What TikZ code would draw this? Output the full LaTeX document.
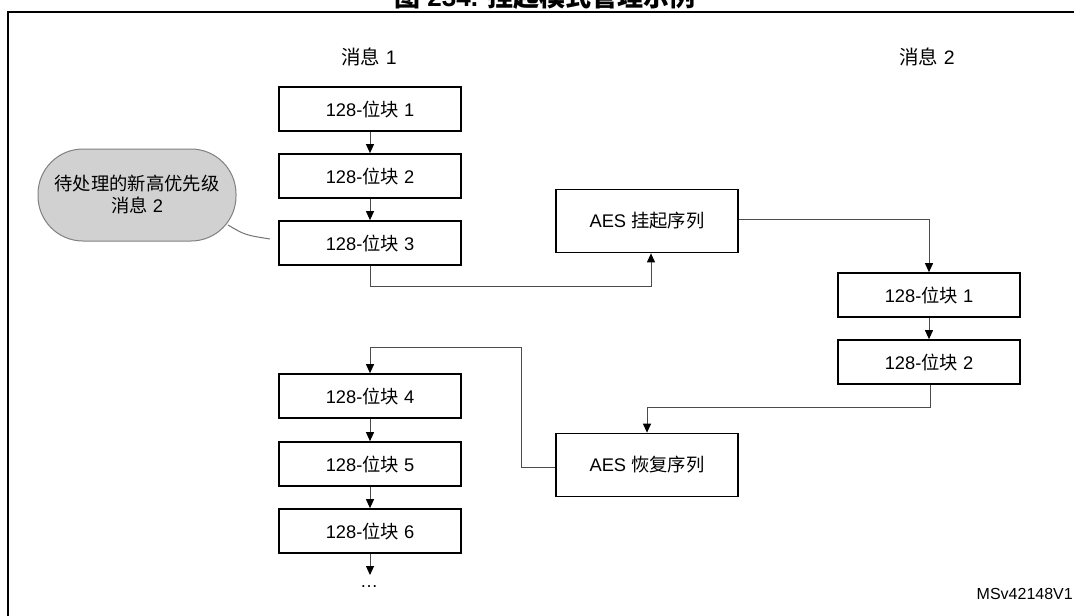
\documentclass[tikz,border=0pt]{standalone}
\usepackage{fontspec}
\setmainfont{Liberation Sans}
\newfontfamily\cjk{Noto Sans CJK SC}
\newcommand\zh[1]{{\cjk #1}}
\usetikzlibrary{arrows.meta}
\tikzset{
  blk/.style={draw, line width=1.7pt, minimum width=182pt, minimum height=44pt, inner sep=0pt, font=\fontsize{18.3}{21}\selectfont},
  aesbox/.style={blk, minimum height=63pt},
  conn/.style={draw=black!70, line width=1pt, -{Triangle[width=8pt,length=9pt,color=black]}},
  lbl/.style={font=\fontsize{19.5}{22}\selectfont},
}
\begin{document}
\begin{tikzpicture}[x=1pt,y=-1pt]
\useasboundingbox (0,0) rectangle (1074,616);
% frame and title
\draw[line width=2pt] (1080,12) -- (8,12) -- (8,620);
\node[anchor=base, font=\bfseries\fontsize{26}{30}\selectfont, inner sep=0pt] (title) at (545,6.5) {\zh{图} 234. \zh{挂起模式管理示例}};
% labels
\node[lbl] (m1) at (369,57) {\zh{消息} 1};
\node[lbl] (m2) at (927,57) {\zh{消息} 2};
% left column
\node[blk] (L1) at (370,109) {128-\zh{位块} 1};
\node[blk] (L2) at (370,176) {128-\zh{位块} 2};
\node[blk] (L3) at (370,243) {128-\zh{位块} 3};
\node[blk] (L4) at (370,396) {128-\zh{位块} 4};
\node[blk] (L5) at (370,464) {128-\zh{位块} 5};
\node[blk] (L6) at (370,531) {128-\zh{位块} 6};
\node[font=\fontsize{18}{20}\selectfont, inner sep=0pt] (dots) at (369,587) {…};
% right column
\node[blk] (R1) at (929,295) {128-\zh{位块} 1};
\node[blk] (R2) at (929,362) {128-\zh{位块} 2};
% AES boxes
\node[aesbox] (S) at (647,221) {AES \zh{挂起序列}};
\node[aesbox] (Rs) at (647,465) {AES \zh{恢复序列}};
% callout
\node[draw=black!50, fill=black!18, line width=1pt, rounded corners=45pt, minimum width=198pt, minimum height=92pt, align=center, font=\fontsize{18.3}{22}\selectfont] (cb) at (137,195) {\zh{待处理的新高优先级}\\\zh{消息} 2};
\coordinate (t1) at (228,225);
\coordinate (t2) at (270,239);
\draw[draw=black!55, line width=1pt] (t1) .. controls (245,235) .. (t2);
% connectors
\path[conn] (L1) -- (L2);
\path[conn] (L2) -- (L3);
\path[conn] (L4) -- (L5);
\path[conn] (L5) -- (L6);
\path[conn] (R1) -- (R2);
\coordinate (d) at (370,575);
\path[conn] (L6.south) -- (d);
\coordinate (s1) at (651,286);
\path[conn] (L3.south) |- (s1) -- ([xshift=4pt]S.south);
\path[conn] ([yshift=2pt]S.east) -| (R1.north);
\coordinate (r1) at (930,407);
\path[conn] (R2.south -| r1) -- (r1) -| (Rs.north);
\coordinate (c1) at (521,347);
\path[conn] ([yshift=-2pt]Rs.west) -| (c1) -| (L4.north);
% code
\node[anchor=east, font=\fontsize{16}{18}\selectfont, inner sep=0pt] (code) at (1073,594) {MSv42148V1};
\end{tikzpicture}
\end{document}
